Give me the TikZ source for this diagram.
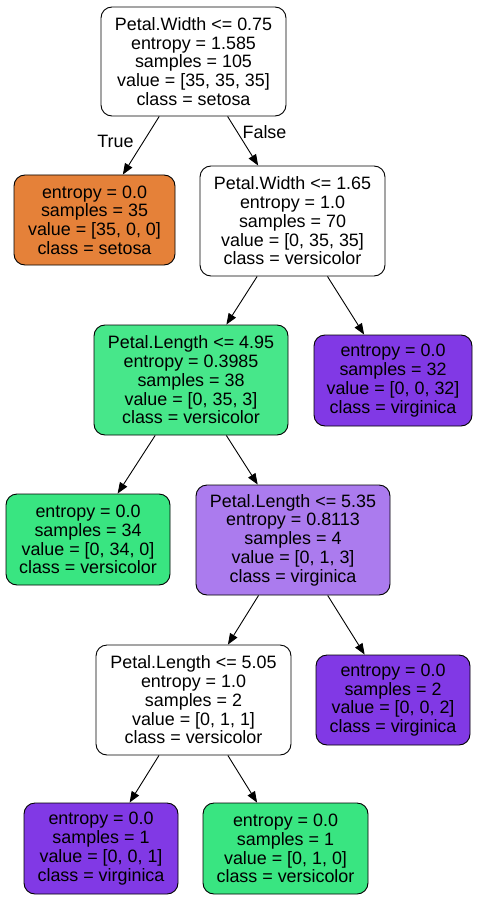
\documentclass[tikz,border=0pt]{standalone}
\usepackage{fontspec}
\setmainfont{Liberation Sans}
\usetikzlibrary{arrows.meta}
\definecolor{cset}{HTML}{E58139}
\definecolor{cver}{HTML}{39E581}
\definecolor{cverb}{HTML}{47E78A}
\definecolor{cvir}{HTML}{8139E5}
\definecolor{cvirl}{HTML}{AB7BEE}
\tikzset{
  tnode/.style={draw=black, line width=0.9pt, rounded corners=11pt, align=center, inner sep=0pt,
    font=\fontsize{17.9}{18.75}\selectfont, text=black},
  edge/.style={draw=black, line width=0.9pt, -{Triangle[length=11pt,width=8.5pt]}},
  elabel/.style={font=\fontsize{17.9}{18.75}\selectfont, text=black}
}
\begin{document}
\begin{tikzpicture}[x=1pt,y=-1pt]
\useasboundingbox[fill=white] (0,0) rectangle (479,901);
\node[tnode, fill=white, minimum width=185pt, minimum height=109pt] (n0) at (193.5,61.5)
  {Petal.Width <= 0.75\\entropy = 1.585\\samples = 105\\value = [35, 35, 35]\\class = setosa};
\node[tnode, fill=cset, minimum width=161pt, minimum height=90pt] (n1) at (94.5,220)
  {entropy = 0.0\\samples = 35\\value = [35, 0, 0]\\class = setosa};
\node[tnode, fill=white, minimum width=185pt, minimum height=110pt] (n2) at (292.5,221)
  {Petal.Width <= 1.65\\entropy = 1.0\\samples = 70\\value = [0, 35, 35]\\class = versicolor};
\node[tnode, fill=cverb, minimum width=194pt, minimum height=110pt] (n3) at (191,380)
  {Petal.Length <= 4.95\\entropy = 0.3985\\samples = 38\\value = [0, 35, 3]\\class = versicolor};
\node[tnode, fill=cvir, minimum width=158pt, minimum height=91pt] (n4) at (393,380.5)
  {entropy = 0.0\\samples = 32\\value = [0, 0, 32]\\class = virginica};
\node[tnode, fill=cver, minimum width=164pt, minimum height=91pt] (n5) at (88,539.5)
  {entropy = 0.0\\samples = 34\\value = [0, 34, 0]\\class = versicolor};
\node[tnode, fill=cvirl, minimum width=194pt, minimum height=110pt] (n6) at (293,540)
  {Petal.Length <= 5.35\\entropy = 0.8113\\samples = 4\\value = [0, 1, 3]\\class = virginica};
\node[tnode, fill=white, minimum width=195pt, minimum height=110pt] (n7) at (193.5,700)
  {Petal.Length <= 5.05\\entropy = 1.0\\samples = 2\\value = [0, 1, 1]\\class = versicolor};
\node[tnode, fill=cvir, minimum width=154pt, minimum height=90pt] (n8) at (393,700)
  {entropy = 0.0\\samples = 2\\value = [0, 0, 2]\\class = virginica};
\node[tnode, fill=cvir, minimum width=154pt, minimum height=91pt] (n9) at (101,848.5)
  {entropy = 0.0\\samples = 1\\value = [0, 0, 1]\\class = virginica};
\node[tnode, fill=cver, minimum width=165pt, minimum height=91pt] (n10) at (285.5,848.5)
  {entropy = 0.0\\samples = 1\\value = [0, 1, 0]\\class = versicolor};
\draw[edge] (n0) -- (n1);
\draw[edge] (n0) -- (n2);
\draw[edge] (n2) -- (n3);
\draw[edge] (n2) -- (n4);
\draw[edge] (n3) -- (n5);
\draw[edge] (n3) -- (n6);
\draw[edge] (n6) -- (n7);
\draw[edge] (n6) -- (n8);
\draw[edge] (n7) -- (n9);
\draw[edge] (n7) -- (n10);
\node[elabel] (lt) at (115.5,141) {True};
\node[elabel] (lf) at (264.5,132) {False};
\end{tikzpicture}
\end{document}
